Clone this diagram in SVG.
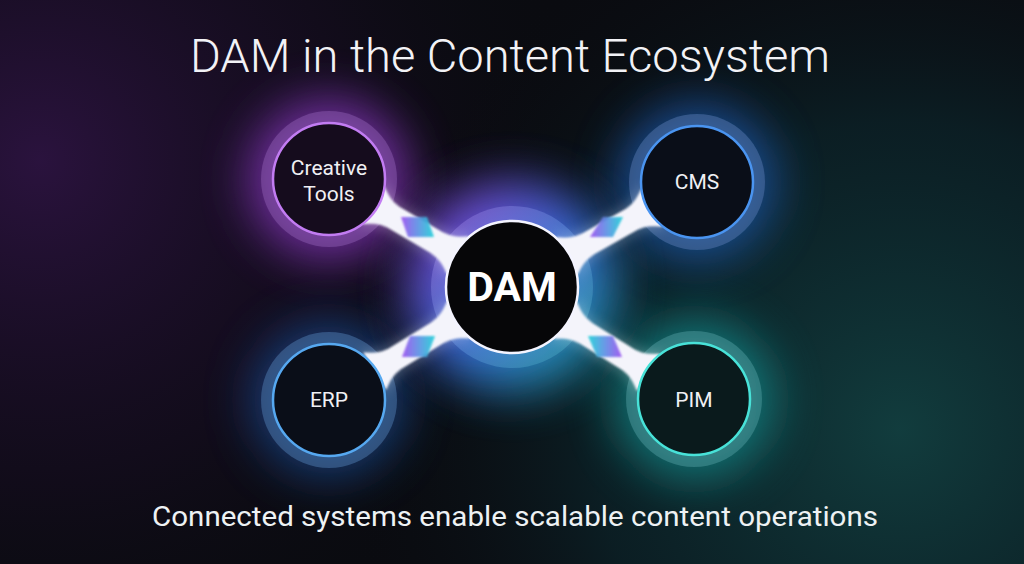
<svg xmlns="http://www.w3.org/2000/svg" width="1024" height="564" viewBox="0 0 1024 564">
  <defs>
    <radialGradient id="bgPurple" cx="40" cy="160" r="540" gradientUnits="userSpaceOnUse">
      <stop offset="0" stop-color="#2c1340" stop-opacity="0.95"/>
      <stop offset="0.6" stop-color="#1a0d26" stop-opacity="0.45"/>
      <stop offset="1" stop-color="#0a0b10" stop-opacity="0"/>
    </radialGradient>
    <radialGradient id="bgTeal" cx="900" cy="430" r="560" gradientUnits="userSpaceOnUse">
      <stop offset="0" stop-color="#123f40" stop-opacity="0.95"/>
      <stop offset="0.55" stop-color="#0c2a30" stop-opacity="0.6"/>
      <stop offset="1" stop-color="#0a0b10" stop-opacity="0"/>
    </radialGradient>
    <linearGradient id="damGlow" x1="0" y1="0" x2="1" y2="1">
      <stop offset="0" stop-color="#a83ee8"/>
      <stop offset="0.5" stop-color="#3a6ee8"/>
      <stop offset="1" stop-color="#18b8a8"/>
    </linearGradient>
    <linearGradient id="damRing" x1="0" y1="0" x2="1" y2="1">
      <stop offset="0" stop-color="#9a6ad8"/>
      <stop offset="0.5" stop-color="#5a88d8"/>
      <stop offset="1" stop-color="#3aa8b0"/>
    </linearGradient>
    <linearGradient id="chipA" x1="0" y1="0" x2="1" y2="0">
      <stop offset="0" stop-color="#9a4ef0"/>
      <stop offset="1" stop-color="#1ed0d8"/>
    </linearGradient>
    <linearGradient id="chipB" x1="1" y1="0" x2="0" y2="0">
      <stop offset="0" stop-color="#9a4ef0"/>
      <stop offset="1" stop-color="#1ed0d8"/>
    </linearGradient>
    <filter id="blurBig" x="-1" y="-1" width="3" height="3">
      <feGaussianBlur stdDeviation="24"/>
    </filter>
    <filter id="blurMid" x="-1" y="-1" width="3" height="3">
      <feGaussianBlur stdDeviation="6"/>
    </filter>
    <filter id="soft" x="-0.5" y="-0.5" width="2" height="2">
      <feGaussianBlur stdDeviation="1"/>
    </filter>
  </defs>
  <style>
    .title { font-family: Roboto, "Liberation Sans", sans-serif; font-weight: 300; font-size: 47px; fill: #f2f2f6; }
    .sub { font-family: Roboto, "Liberation Sans", sans-serif; font-weight: 400; font-size: 28px; fill: #eef2f4; }
    .lbl { font-family: Roboto, "Liberation Sans", sans-serif; font-weight: 400; font-size: 21px; fill: #f0f0f4; text-anchor: middle; }
    .dam { font-family: Roboto, "Liberation Sans", sans-serif; font-weight: 700; font-size: 41px; fill: #ffffff; text-anchor: middle; }
    .band { fill: #f4f4fb; }
    .bandGlow { fill: #ffffff; opacity: 0.22; }
  </style>

  <!-- background -->
  <rect width="1024" height="564" fill="#0a0b10"/>
  <rect width="1024" height="564" fill="url(#bgPurple)"/>
  <rect width="1024" height="564" fill="url(#bgTeal)"/>

  <!-- glows -->
  <g id="glows">
    <circle cx="329" cy="179" r="80" fill="#9a3ed8" opacity="0.7" filter="url(#blurBig)"/>
    <circle cx="697" cy="182" r="78" fill="#2468d0" opacity="0.65" filter="url(#blurBig)"/>
    <circle cx="329" cy="400" r="76" fill="#1f5fb8" opacity="0.6" filter="url(#blurBig)"/>
    <circle cx="694" cy="399" r="80" fill="#139a9a" opacity="0.7" filter="url(#blurBig)"/>
    <circle cx="512" cy="287" r="105" fill="url(#damGlow)" opacity="0.9" filter="url(#blurBig)"/>
  </g>

  <!-- outer rings -->
  <g id="rings">
    <circle cx="329" cy="179" r="68" fill="#8c5cb0" opacity="0.5"/>
    <circle cx="697" cy="182" r="68" fill="#5478b0" opacity="0.5"/>
    <circle cx="329" cy="400" r="68" fill="#4f7cb0" opacity="0.5"/>
    <circle cx="694" cy="399" r="68" fill="#4f9a9e" opacity="0.5"/>
    <circle cx="512" cy="287" r="81" fill="url(#damRing)" opacity="0.55"/>
  </g>

  <!-- connectors -->
  <g id="connectors">
    <g transform="translate(512,287) rotate(-149.5)">
      <path class="bandGlow" filter="url(#blurMid)" d="M62,-26 C74,-16 82,-15 92,-15 L134,-15 C144,-15 150,-17 162,-26 L162,26 C150,17 144,15 134,15 L92,15 C82,15 74,16 62,26 Z"/>
      <path class="band" filter="url(#soft)" d="M63,-22 C73,-14 81,-12 92,-12 L134,-12 C144,-12 150,-14 161,-22 L161,22 C150,14 144,12 134,12 L92,12 C81,12 73,14 63,22 Z"/>
    </g>
    <g transform="translate(512,287) rotate(-29.5)">
      <path class="bandGlow" filter="url(#blurMid)" d="M62,-26 C74,-16 82,-15 92,-15 L134,-15 C144,-15 150,-17 162,-26 L162,26 C150,17 144,15 134,15 L92,15 C82,15 74,16 62,26 Z"/>
      <path class="band" filter="url(#soft)" d="M63,-22 C73,-14 81,-12 92,-12 L134,-12 C144,-12 150,-14 161,-22 L161,22 C150,14 144,12 134,12 L92,12 C81,12 73,14 63,22 Z"/>
    </g>
    <g transform="translate(512,287) rotate(148.5)">
      <path class="bandGlow" filter="url(#blurMid)" d="M62,-26 C74,-16 82,-15 92,-15 L134,-15 C144,-15 150,-17 162,-26 L162,26 C150,17 144,15 134,15 L92,15 C82,15 74,16 62,26 Z"/>
      <path class="band" filter="url(#soft)" d="M63,-22 C73,-14 81,-12 92,-12 L134,-12 C144,-12 150,-14 161,-22 L161,22 C150,14 144,12 134,12 L92,12 C81,12 73,14 63,22 Z"/>
    </g>
    <g transform="translate(512,287) rotate(32)">
      <path class="bandGlow" filter="url(#blurMid)" d="M62,-26 C74,-16 82,-15 92,-15 L134,-15 C144,-15 150,-17 162,-26 L162,26 C150,17 144,15 134,15 L92,15 C82,15 74,16 62,26 Z"/>
      <path class="band" filter="url(#soft)" d="M63,-22 C73,-14 81,-12 92,-12 L134,-12 C144,-12 150,-14 161,-22 L161,22 C150,14 144,12 134,12 L92,12 C81,12 73,14 63,22 Z"/>
    </g>
    <polygon points="401,217 427,217 434,237 408,237" fill="url(#chipA)" opacity="0.9" filter="url(#soft)"/>
    <polygon points="603,217 623,217 613,237 590,237" fill="url(#chipA)" opacity="0.9" filter="url(#soft)"/>
    <polygon points="410,336 435,336 427,357 402,357" fill="url(#chipA)" opacity="0.9" filter="url(#soft)"/>
    <polygon points="588,336 613,336 622,357 597,357" fill="url(#chipB)" opacity="0.9" filter="url(#soft)"/>
  </g>

  <!-- nodes -->
  <g id="node-creative-tools">
    <circle cx="329" cy="179" r="56" fill="#150c1d" stroke="#c27cf2" stroke-width="2.5"/>
    <text class="lbl" x="329" y="175">Creative</text>
    <text class="lbl" x="329" y="201">Tools</text>
  </g>
  <g id="node-cms">
    <circle cx="697" cy="182" r="56" fill="#0a0e18" stroke="#4a94f0" stroke-width="2.5"/>
    <text class="lbl" x="697" y="189">CMS</text>
  </g>
  <g id="node-erp">
    <circle cx="329" cy="400" r="56" fill="#0a0e18" stroke="#56a8f0" stroke-width="2.5"/>
    <text class="lbl" x="329" y="407">ERP</text>
  </g>
  <g id="node-pim">
    <circle cx="694" cy="399" r="56" fill="#0a1a1c" stroke="#48e2d8" stroke-width="2.5"/>
    <text class="lbl" x="694" y="407">PIM</text>
  </g>
  <g id="node-dam">
    <circle cx="512" cy="287" r="66" fill="#060608" stroke="#f4f4ff" stroke-width="2.5"/>
    <text class="dam" x="512" y="301">DAM</text>
  </g>

  <!-- texts -->
  <text class="title" x="190" y="72" textLength="640" lengthAdjust="spacingAndGlyphs">DAM in the Content Ecosystem</text>
  <text class="sub" x="152" y="526" textLength="726" lengthAdjust="spacingAndGlyphs">Connected systems enable scalable content operations</text>
</svg>
